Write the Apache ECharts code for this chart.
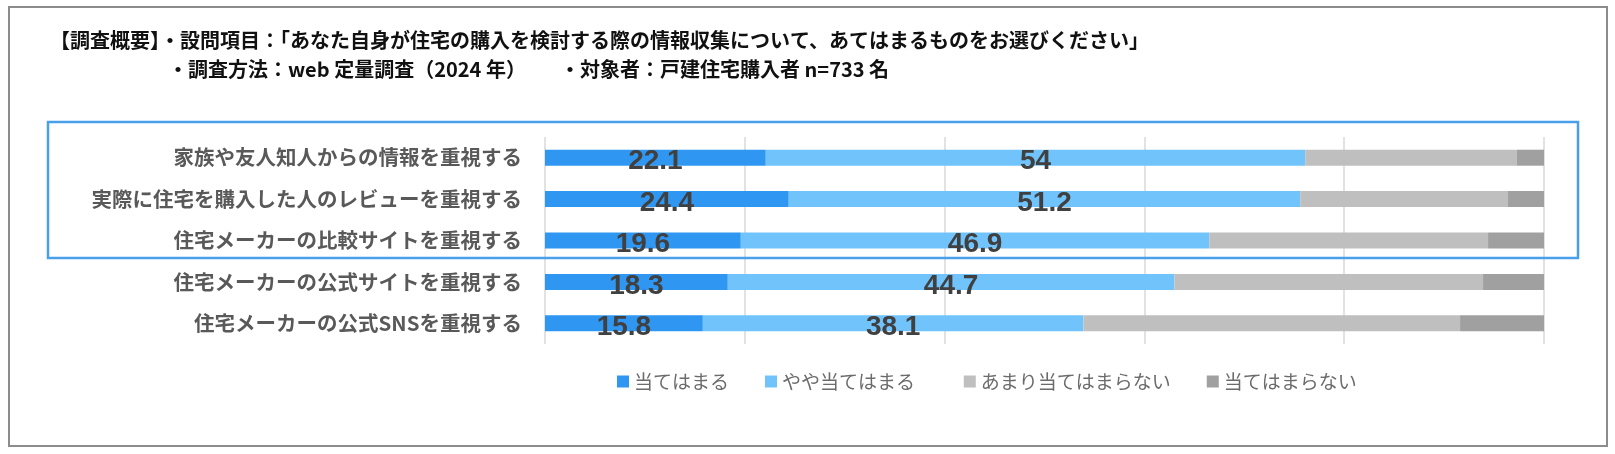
<!DOCTYPE html>
<html>

<head>
  <meta charset="utf-8">
  <title>住宅購入時の情報収集</title>
  <script src="https://cdn.jsdelivr.net/npm/echarts@6/dist/echarts.min.js"></script>
  <style>
    html, body {
      margin: 0;
      padding: 0;
      background: #fff;
    }

    #chart {
      width: 1615px;
      height: 454px;
    }
  </style>
</head>

<body>
  <div id="chart"></div>
  <script>
    // 設問項目（上から順）
    const categories = [
      '家族や友人知人からの情報を重視する',
      '実際に住宅を購入した人のレビューを重視する',
      '住宅メーカーの比較サイトを重視する',
      '住宅メーカーの公式サイトを重視する',
      '住宅メーカーの公式SNSを重視する'
    ];
    const seriesNames = ['当てはまる', 'やや当てはまる', 'あまり当てはまらない', '当てはまらない'];
    // 回答割合（%）
    const agree = [22.1, 24.4, 19.6, 18.3, 15.8];
    const somewhatAgree = [54, 51.2, 46.9, 44.7, 38.1];
    const notMuch = [21.2, 20.8, 27.9, 30.9, 37.7];
    const notAtAll = [2.7, 3.6, 5.6, 6.1, 8.4];
    const xTicks = [0, 20, 40, 60, 80, 100];

    const colors = ['#2f97f2', '#70c4fb', '#bfbfbf', '#a0a0a0'];
    const jp = '"Noto Sans CJK JP", sans-serif';

    const chart = echarts.init(document.getElementById('chart'));

    // 数値ラベルは上位2系列のみ表示
    function makeSeries(name, data, showLabel) {
      return {
        name: name,
        type: 'bar',
        stack: 'total',
        barWidth: 16,
        data: data,
        silent: true,
        label: {
          show: showLabel,
          position: 'inside',
          offset: [0, 4],
          color: '#404040',
          fontFamily: '"Liberation Sans", Arial, sans-serif',
          fontWeight: 'bold',
          fontSize: 28
        }
      };
    }

    const option = {
      animation: false,
      color: colors,
      grid: {
        left: 545,
        right: 71,
        top: 137,
        bottom: 110
      },
      xAxis: {
        type: 'value',
        min: xTicks[0],
        max: xTicks[xTicks.length - 1],
        interval: 20,
        axisLabel: { show: false },
        axisTick: { show: false },
        axisLine: { show: false },
        splitLine: { lineStyle: { color: '#d9d9d9', width: 1.5 } }
      },
      yAxis: {
        type: 'category',
        inverse: true,
        data: categories,
        axisTick: { show: false },
        axisLine: { show: false },
        axisLabel: {
          margin: 23,
          color: '#595959',
          fontFamily: jp,
          fontWeight: 'bold',
          fontSize: 20.5
        }
      },
      legend: {
        left: 612,
        top: 367,
        icon: 'rect',
        itemWidth: 12,
        itemHeight: 12,
        itemGap: 36,
        selectedMode: false,
        textStyle: {
          color: '#6b6b6b',
          fontFamily: jp,
          fontSize: 19
        },
        // 2項目目の後ろだけ間隔が広い
        formatter: function (name) {
          return name === seriesNames[1] ? name + '   ' : name;
        },
        data: seriesNames
      },
      graphic: [
        // 外枠
        {
          type: 'rect',
          shape: { x: 9, y: 7, width: 1598, height: 439 },
          style: { fill: 'none', stroke: '#8c8c8c', lineWidth: 2 },
          z: 0
        },
        // 上位3項目の囲み
        {
          type: 'rect',
          shape: { x: 48, y: 122, width: 1530, height: 136 },
          style: { fill: 'none', stroke: '#4a9fea', lineWidth: 2.5 },
          z: 100
        },
        {
          type: 'text',
          left: 50,
          top: 30,
          style: {
            text: '【調査概要】・設問項目：「あなた自身が住宅の購入を検討する際の情報収集について、あてはまるものをお選びください」',
            fill: '#111',
            font: 'bold 20px ' + jp
          }
        },
        {
          type: 'text',
          left: 168,
          top: 59,
          style: {
            text: '・調査方法：web 定量調査（2024 年）',
            fill: '#111',
            font: 'bold 20px ' + jp
          }
        },
        {
          type: 'text',
          left: 560,
          top: 59,
          style: {
            text: '・対象者：戸建住宅購入者 n=733 名',
            fill: '#111',
            font: 'bold 20px ' + jp
          }
        }
      ],
      series: [
        makeSeries(seriesNames[0], agree, true),
        makeSeries(seriesNames[1], somewhatAgree, true),
        makeSeries(seriesNames[2], notMuch, false),
        makeSeries(seriesNames[3], notAtAll, false)
      ]
    };

    chart.setOption(option);
  </script>
</body>

</html>
